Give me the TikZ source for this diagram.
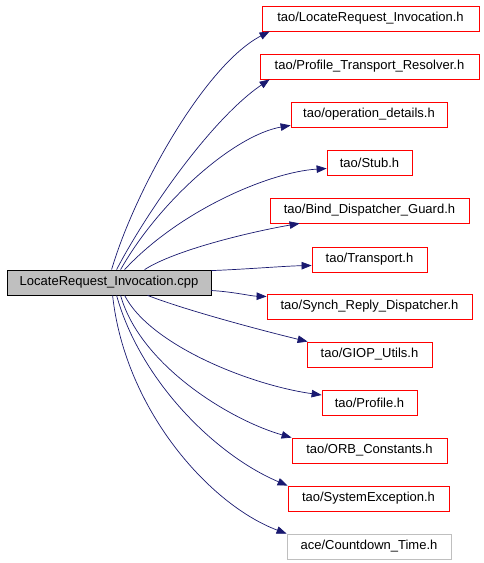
\documentclass[tikz,border=0pt]{standalone}
\usepackage{fontspec}
\setmainfont{Liberation Sans}
\usetikzlibrary{arrows.meta}
\definecolor{edgeblue}{HTML}{191970}
\definecolor{boxgray}{HTML}{BFBFBF}
\tikzset{
  hdr/.style={draw=red, line width=0.8pt, minimum height=25pt, inner sep=0pt, font=\fontsize{13}{15}\selectfont},
  hdrext/.style={hdr, draw=boxgray},
  mainbox/.style={draw=black, fill=boxgray, line width=0.8pt, minimum height=25pt, inner sep=0pt, font=\fontsize{13}{15}\selectfont},
  dep/.style={draw=edgeblue, line width=0.7pt, -{Triangle[length=10pt,width=7.5pt]}}
}
\begin{document}
\begin{tikzpicture}[x=1pt,y=-1pt]
\useasboundingbox (0,0) rectangle (483,563);
\fill[white] (0,0) rectangle (483,563);
\node[mainbox, minimum width=204pt] (main) at (109,282.5) {LocateRequest\_Invocation.cpp};
\node[hdr, minimum width=217pt] (locreq) at (370.5,18.5) {tao/LocateRequest\_Invocation.h};
\node[hdr, minimum width=219pt] (proftrans) at (369.5,66.5) {tao/Profile\_Transport\_Resolver.h};
\node[hdr, minimum width=156pt] (opdet) at (369,114.5) {tao/operation\_details.h};
\node[hdr, minimum width=85pt] (stub) at (369.5,162.5) {tao/Stub.h};
\node[hdr, minimum width=199pt] (bind) at (369.5,210.5) {tao/Bind\_Dispatcher\_Guard.h};
\node[hdr, minimum width=115pt] (transport) at (369.5,259.5) {tao/Transport.h};
\node[hdr, minimum width=205pt] (synch) at (369.5,306.5) {tao/Synch\_Reply\_Dispatcher.h};
\node[hdr, minimum width=125pt] (giop) at (369.5,354.5) {tao/GIOP\_Utils.h};
\node[hdr, minimum width=95pt] (profile) at (369.5,403) {tao/Profile.h};
\node[hdr, minimum width=155pt] (orb) at (369.5,450.5) {tao/ORB\_Constants.h};
\node[hdr, minimum width=161pt] (sysexc) at (368.5,498.5) {tao/SystemException.h};
\node[hdrext, minimum width=164pt] (countdown) at (369,546.5) {ace/Countdown\_Time.h};

\draw[dep] ([xshift=105pt]main.north west) .. controls (135,190) and (205,65) .. ([xshift=8pt]locreq.south west);
\draw[dep] ([xshift=110pt]main.north west) .. controls (145,215) and (210,120) .. ([xshift=10pt]proftrans.south west);
\draw[dep] ([xshift=114pt]main.north west) .. controls (160,200) and (235,135) .. ([yshift=2pt]opdet.south west);
\draw[dep] ([xshift=118pt]main.north west) .. controls (180,210) and (270,172) .. ([yshift=-6pt]stub.west);
\draw[dep] ([xshift=138pt]main.north west) .. controls (175,250) and (250,232) .. ([xshift=30pt]bind.south west);
\draw[dep] ([yshift=-1pt]main.north east) .. controls (250,269) and (285,266) .. ([yshift=-6pt]transport.west);
\draw[dep] ([yshift=-8pt]main.east) .. controls (235,292) and (250,296) .. ([yshift=10pt]synch.west);
\draw[dep] ([xshift=141pt]main.south west) .. controls (185,310) and (260,330) .. ([xshift=1pt]giop.north west);
\draw[dep] ([xshift=118pt]main.south west) .. controls (150,345) and (250,385) .. ([yshift=8pt]profile.west);
\draw[dep] ([xshift=114pt]main.south west) .. controls (140,365) and (230,420) .. (orb.north west);
\draw[dep] ([xshift=110pt]main.south west) .. controls (140,380) and (215,455) .. (sysexc.north west);
\draw[dep] ([xshift=106pt]main.south west) .. controls (125,410) and (210,505) .. (countdown.north west);
\end{tikzpicture}
\end{document}
